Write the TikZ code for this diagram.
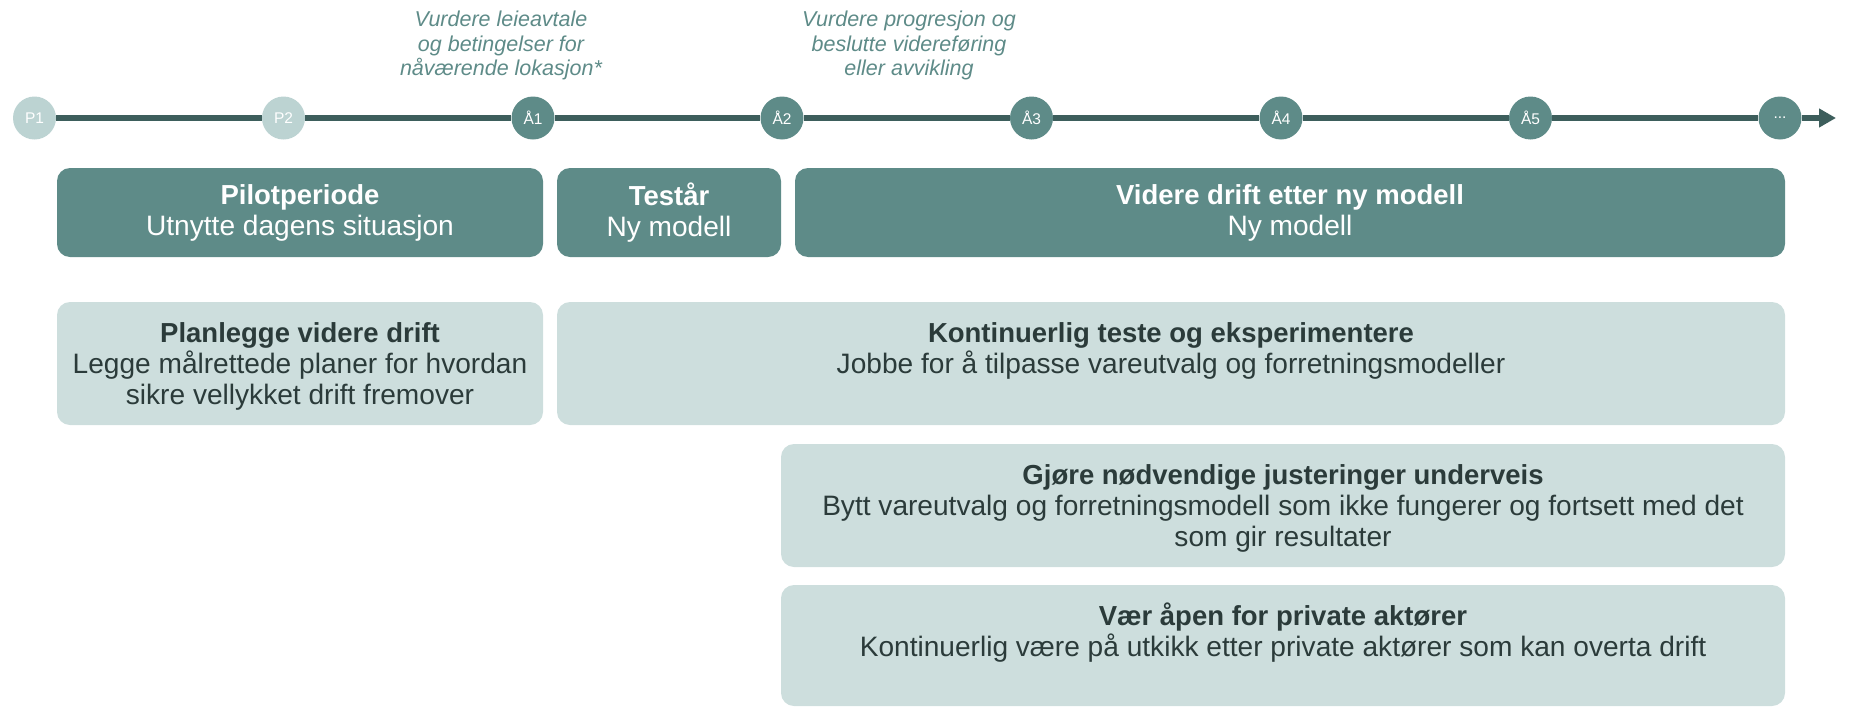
\documentclass[tikz,border=0pt]{standalone}
\usepackage{fontspec}
\setmainfont{Liberation Sans}
\usetikzlibrary{arrows.meta}
\definecolor{dteal}{HTML}{5E8B88}
\definecolor{lteal}{HTML}{CDDEDD}
\definecolor{pcirc}{HTML}{BCD3D2}
\definecolor{tline}{HTML}{3D5E5C}
\definecolor{dtext}{HTML}{2B3B3A}
\newcommand{\bt}[1]{{\fontsize{27.5}{31}\selectfont\bfseries #1}}
\begin{document}
\begin{tikzpicture}[x=1pt,y=-1pt,
  mile/.style={circle, fill=dteal, minimum size=43pt, inner sep=0pt, text=white, font=\fontsize{15.5}{15.5}\selectfont},
  pmile/.style={mile, fill=pcirc},
  tseg/.style={draw=tline, line width=5.3pt},
  darkbox/.style={rectangle, rounded corners=13pt, fill=dteal, inner sep=0pt},
  lightbox/.style={darkbox, fill=lteal},
  boxtxt/.style={align=center, inner sep=0pt, font=\fontsize{28.1}{31}\selectfont},
  wtxt/.style={boxtxt, text=white},
  btxt/.style={boxtxt, text=dtext},
  note/.style={align=center, inner sep=0pt, text=dteal, font=\fontsize{21.5}{24.6}\selectfont\itshape}
]
\useasboundingbox (0,0) rectangle (1850,707);

% timeline
\node[pmile] (p1) at (34.5,118) {P1};
\node[pmile] (p2) at (283.5,118) {P2};
\node[mile] (a1) at (533,118) {Å1};
\node[mile] (a2) at (782,118) {Å2};
\node[mile] (a3) at (1031.5,118) {Å3};
\node[mile] (a4) at (1281,118) {Å4};
\node[mile] (a5) at (1530.5,118) {Å5};
\node[mile] (dots) at (1780,118) {...};
\coordinate (tip) at (1836,118);
\draw[tseg] (p1) -- (p2);
\draw[tseg] (p2) -- (a1);
\draw[tseg] (a1) -- (a2);
\draw[tseg] (a2) -- (a3);
\draw[tseg] (a3) -- (a4);
\draw[tseg] (a4) -- (a5);
\draw[tseg] (a5) -- (dots);
\draw[tseg, -{Triangle[length=17pt,width=18pt]}] (dots) -- (tip);

% notes
\node[note] (n1) at (501,45.5) {Vurdere leieavtale\\og betingelser for\\nåværende lokasjon*};
\node[note] (n2) at (909,45.5) {Vurdere progresjon og\\beslutte videreføring\\eller avvikling};

% dark boxes
\node[darkbox, minimum width=486pt, minimum height=89pt] (pilot) at (300,212.5) {};
\node[wtxt] at (pilot.center) {\bt{Pilotperiode}\\Utnytte dagens situasjon};
\node[darkbox, minimum width=224pt, minimum height=89pt] (test) at (669,212.5) {};
\node[wtxt] at (test.center) {\bt{Testår}\\Ny modell};
\node[darkbox, minimum width=990pt, minimum height=89pt] (videre) at (1290,212.5) {};
\node[wtxt] at (videre.center) {\bt{Videre drift etter ny modell}\\Ny modell};

% light boxes
\node[lightbox, minimum width=486pt, minimum height=123pt] (plan) at (300,363.5) {};
\node[btxt] at ([yshift=-2.5pt]plan.center) {\bt{Planlegge videre drift}\\Legge målrettede planer for hvordan\\sikre vellykket drift fremover};
\node[lightbox, minimum width=1228pt, minimum height=123pt] (kont) at (1171,363.5) {};
\node[btxt, anchor=north] at ([yshift=-20.5pt]kont.north) {\bt{Kontinuerlig teste og eksperimentere}\\Jobbe for å tilpasse vareutvalg og forretningsmodeller};
\node[lightbox, minimum width=1004pt, minimum height=123pt] (gjore) at (1283,505.5) {};
\node[btxt] at ([yshift=-2.5pt]gjore.center) {\bt{Gjøre nødvendige justeringer underveis}\\Bytt vareutvalg og forretningsmodell som ikke fungerer og fortsett med det\\som gir resultater};
\node[lightbox, minimum width=1004pt, minimum height=121pt] (vaer) at (1283,645.5) {};
\node[btxt, anchor=north] at ([yshift=-18pt]vaer.north) {\bt{Vær åpen for private aktører}\\Kontinuerlig være på utkikk etter private aktører som kan overta drift};
\end{tikzpicture}
\end{document}
